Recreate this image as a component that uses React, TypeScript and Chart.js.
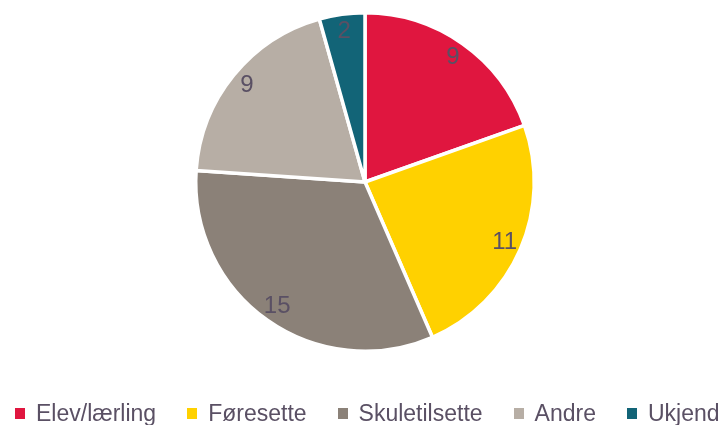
import React, { useEffect, useRef } from "react";
import { Chart, registerables } from "chart.js";

Chart.register(...registerables);

const categories = ["Elev/lærling", "Føresette", "Skuletilsette", "Andre", "Ukjend"];
const values = [9, 11, 15, 9, 2];
const colors = ["#E0163F", "#FFD100", "#8B8178", "#B7AEA5", "#126477"];
const textColor = "#5A5064";
const fontFamily = "'Liberation Sans', Arial, sans-serif";

const labelPlugin = {
  id: "sliceLabels",
  afterDatasetsDraw(chart: any) {
    const ctx = chart.ctx;
    const meta = chart.getDatasetMeta(0);
    ctx.save();
    ctx.font = `24px ${fontFamily}`;
    ctx.fillStyle = textColor;
    ctx.textAlign = "center";
    ctx.textBaseline = "middle";
    meta.data.forEach((arc: any, i: number) => {
      const p = arc.getProps(["x", "y", "startAngle", "endAngle", "outerRadius"], true);
      const mid = (p.startAngle + p.endAngle) / 2;
      const r = p.outerRadius * 0.9;
      ctx.fillText(String(values[i]), p.x + Math.cos(mid) * r, p.y + Math.sin(mid) * r);
    });
    ctx.restore();
  },
};

export default function App() {
  const ref = useRef<HTMLCanvasElement>(null);
  useEffect(() => {
    if (!ref.current) return;
    const chart = new Chart(ref.current, {
      type: "pie",
      data: {
        labels: categories,
        datasets: [
          {
            data: values,
            backgroundColor: colors,
            borderColor: "#ffffff",
            borderWidth: 3.5,
          },
        ],
      },
      options: {
        animation: false,
        responsive: false,
        maintainAspectRatio: false,
        layout: { padding: { top: 11, bottom: 72, left: 10, right: 0 } },
        plugins: {
          legend: { display: false },
          tooltip: { enabled: false },
        },
      },
      plugins: [labelPlugin],
    });
    return () => chart.destroy();
  }, []);

  return (
    <div
      style={{
        position: "fixed",
        left: 0,
        top: 0,
        width: 720,
        height: 425,
        overflow: "hidden",
        background: "#fff",
      }}
    >
      <canvas ref={ref} width={720} height={425} style={{ display: "block" }} />
      <div
        style={{
          position: "absolute",
          left: 15,
          top: 402,
          display: "flex",
          alignItems: "center",
          whiteSpace: "nowrap",
          fontFamily,
          fontSize: 23,
          lineHeight: "23px",
          color: textColor,
        }}
      >
        {categories.map((c, i) => (
          <div
            key={c}
            style={{ display: "flex", alignItems: "center", marginRight: 31 }}
          >
            <span
              style={{
                display: "inline-block",
                width: 10,
                height: 11,
                background: colors[i],
                marginRight: 11,
              }}
            />
            <span>{c}</span>
          </div>
        ))}
      </div>
    </div>
  );
}
